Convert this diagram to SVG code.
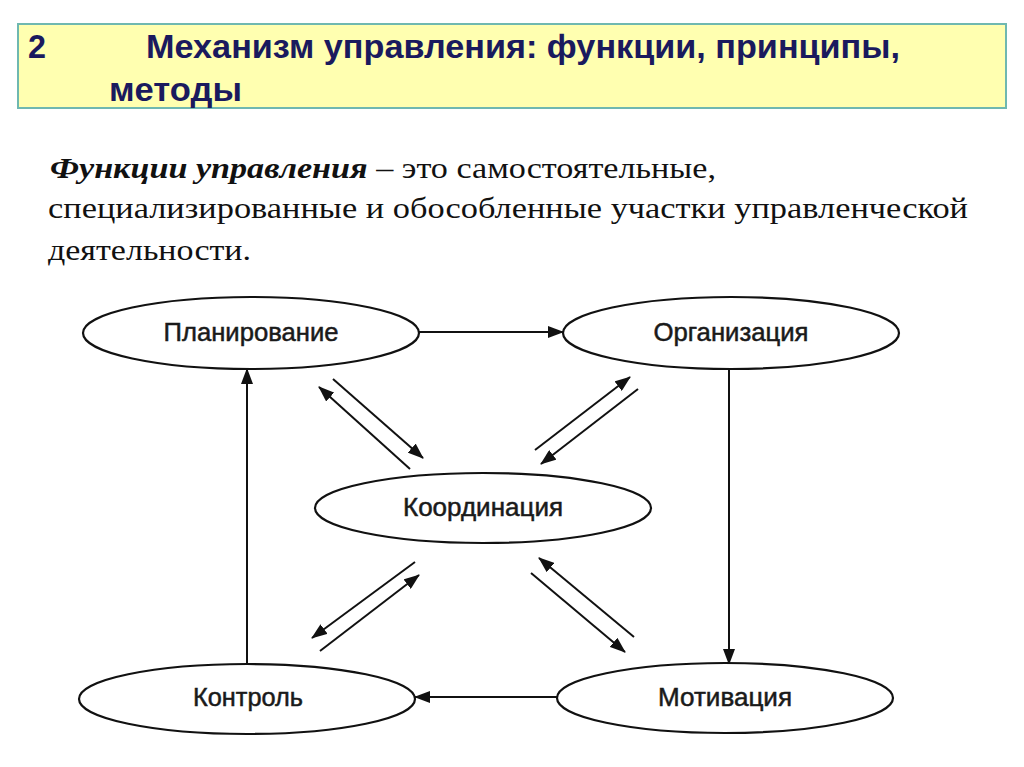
<svg xmlns="http://www.w3.org/2000/svg" width="1024" height="767" viewBox="0 0 1024 767">
<style>
.hdr{font-family:"Liberation Sans Narrow","Arial Narrow","Liberation Sans",Arial,sans-serif;font-weight:bold;font-size:34px;fill:#1a1a5e}
.body{font-family:"Liberation Serif","Times New Roman",serif;font-size:29px;fill:#111}
.node ellipse{fill:#fff;stroke:#111;stroke-width:2.2}
.node text{font-family:"Liberation Sans",Arial,sans-serif;font-size:25px;fill:#1a1a1a;stroke:#1a1a1a;stroke-width:0.5;text-anchor:middle}
.conn line{stroke:#111;stroke-width:2}
</style>
<defs>
<marker id="ah" markerUnits="userSpaceOnUse" markerWidth="16" markerHeight="12" refX="15" refY="6" orient="auto">
<path d="M0,0 L16,6 L0,12 Z" fill="#111"/>
</marker>
</defs>
<rect width="1024" height="767" fill="#fff"/>
<g id="header">
<rect x="18" y="24" width="988" height="84" fill="#ffffb0" stroke="#6fb8b0" stroke-width="2"/>
<text class="hdr" x="28" y="58" textLength="18" lengthAdjust="spacingAndGlyphs">2</text>
<text class="hdr" x="146" y="58" textLength="754" lengthAdjust="spacingAndGlyphs">Механизм управления: функции, принципы,</text>
<text class="hdr" x="109" y="101" textLength="133" lengthAdjust="spacingAndGlyphs">методы</text>
</g>
<g id="definition">
<text class="body" x="50" y="178" textLength="666" lengthAdjust="spacingAndGlyphs"><tspan font-weight="bold" font-style="italic">Функции управления</tspan> – это самостоятельные,</text>
<text class="body" x="48" y="218" textLength="920" lengthAdjust="spacingAndGlyphs">специализированные и обособленные участки управленческой</text>
<text class="body" x="48" y="260" textLength="203" lengthAdjust="spacingAndGlyphs">деятельности.</text>
</g>
<g class="conn" id="connectors">
<line x1="419" y1="332" x2="563" y2="332" marker-end="url(#ah)"/>
<line x1="729" y1="369" x2="729" y2="664" marker-end="url(#ah)"/>
<line x1="557" y1="697" x2="415" y2="697" marker-end="url(#ah)"/>
<line x1="247" y1="665" x2="247" y2="369" marker-end="url(#ah)"/>
<line x1="333" y1="379" x2="423" y2="458" marker-end="url(#ah)"/>
<line x1="410" y1="469" x2="319" y2="387" marker-end="url(#ah)"/>
<line x1="535" y1="450" x2="630" y2="377" marker-end="url(#ah)"/>
<line x1="638" y1="389" x2="541" y2="464" marker-end="url(#ah)"/>
<line x1="415" y1="562" x2="312" y2="638" marker-end="url(#ah)"/>
<line x1="320" y1="651" x2="419" y2="575" marker-end="url(#ah)"/>
<line x1="634" y1="637" x2="539" y2="558" marker-end="url(#ah)"/>
<line x1="531" y1="573" x2="625" y2="652" marker-end="url(#ah)"/>
</g>
<g class="node" id="planning">
<ellipse cx="251" cy="333" rx="168" ry="36"/>
<text x="251" y="341" textLength="175" lengthAdjust="spacingAndGlyphs">Планирование</text>
</g>
<g class="node" id="organization">
<ellipse cx="731" cy="333" rx="168" ry="36"/>
<text x="731" y="341" textLength="155" lengthAdjust="spacingAndGlyphs">Организация</text>
</g>
<g class="node" id="coordination">
<ellipse cx="483" cy="508" rx="168" ry="35"/>
<text x="483" y="516" textLength="160" lengthAdjust="spacingAndGlyphs">Координация</text>
</g>
<g class="node" id="control">
<ellipse cx="247" cy="699" rx="168" ry="35"/>
<text x="248" y="706" textLength="110" lengthAdjust="spacingAndGlyphs">Контроль</text>
</g>
<g class="node" id="motivation">
<ellipse cx="725" cy="698" rx="168" ry="35"/>
<text x="725" y="706" textLength="134" lengthAdjust="spacingAndGlyphs">Мотивация</text>
</g>
</svg>
